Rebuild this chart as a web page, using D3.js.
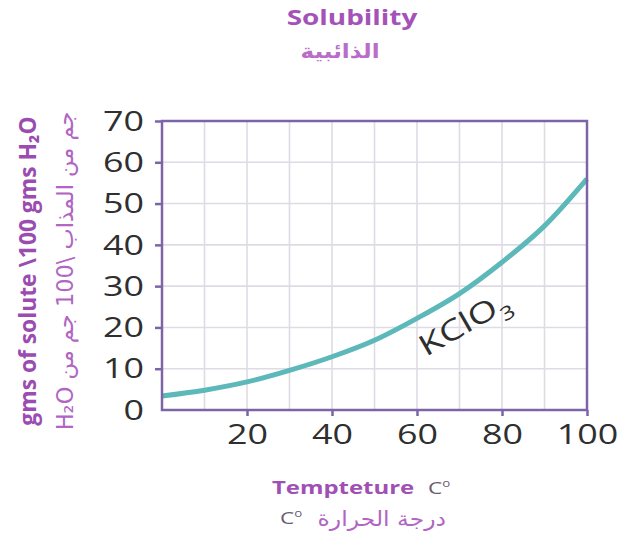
<!DOCTYPE html>
<html><head><meta charset="utf-8">
<script src="https://cdn.jsdelivr.net/npm/d3@7/dist/d3.min.js"></script>
<style>body{margin:0;background:#fff}svg{display:block}</style>
</head><body><svg id="c" width="619" height="541"></svg>
<script>
// ---- data ----
const temperatures = [0, 10, 20, 30, 40, 50, 60, 70, 80, 90, 100];
const solubilityKClO3 = [3.4, 4.8, 6.8, 9.6, 12.9, 16.9, 22.2, 28.2, 35.8, 44.6, 56];
const xTickValues = [20, 40, 60, 80, 100];
const yTickValues = [0, 10, 20, 30, 40, 50, 60, 70];
const xGridValues = [10, 20, 30, 40, 50, 60, 70, 80, 90];
const yGridValues = [10, 20, 30, 40, 50, 60];
const seriesName = "KClO";
const seriesSub = "3";
const titleEn = "Solubility";
const titleAr = "الذائبية";
const yTitleEn = "gms of solute \\100 gms H₂O";
const yTitleAr = "جم من المذاب \\100 جم من H₂O";
const xTitleEn = "Tempteture";
const xTitleAr = "درجة الحرارة";

// ---- layout ----
const W = 619, H = 541;
const plot = {left: 162, right: 587, top: 121, bottom: 410};
const SX = 1.33; // horizontal stretch of the reference text
const font = "'Open Sans', 'DejaVu Sans', sans-serif";
const arFont = "'DejaVu Sans', sans-serif";

const svg = d3.select("#c");
svg.append("rect").attr("width", W).attr("height", H).attr("fill", "#fff");

const x = d3.scaleLinear().domain([0, 100]).range([plot.left, plot.right]);
const y = d3.scaleLinear().domain([0, 70]).range([plot.bottom, plot.top]);

// grid
const grid = svg.append("g").attr("stroke", "#dfdbe5").attr("stroke-width", 1.6);
grid.selectAll("line.v").data(xGridValues).join("line").attr("class", "v")
  .attr("x1", d => x(d)).attr("x2", d => x(d)).attr("y1", plot.top).attr("y2", plot.bottom);
grid.selectAll("line.h").data(yGridValues).join("line").attr("class", "h")
  .attr("y1", d => y(d)).attr("y2", d => y(d)).attr("x1", plot.left).attr("x2", plot.right);

// curve
const pts = temperatures.map((t, i) => [t, solubilityKClO3[i]]);
svg.append("path").datum(pts)
  .attr("d", d3.line().x(d => x(d[0])).y(d => y(d[1])).curve(d3.curveMonotoneX))
  .attr("fill", "none").attr("stroke", "#5cb8b9").attr("stroke-width", 5);

// frame
const frameColor = "#7c64a8";
svg.append("rect").attr("x", plot.left).attr("y", plot.top)
  .attr("width", plot.right - plot.left).attr("height", plot.bottom - plot.top)
  .attr("fill", "none").attr("stroke", frameColor).attr("stroke-width", 2.5);

// axes
const yAxis = svg.append("g").attr("transform", `translate(${plot.left},0)`)
  .call(d3.axisLeft(y).tickValues(yTickValues).tickSize(7).tickFormat(d3.format("d")));
const xAxis = svg.append("g").attr("transform", `translate(0,${plot.bottom})`)
  .call(d3.axisBottom(x).tickValues(xTickValues).tickSize(6).tickFormat(d3.format("d")));
[yAxis, xAxis].forEach(a => {
  a.select(".domain").remove();
  a.selectAll(".tick line").attr("stroke", frameColor).attr("stroke-width", 2.5);
  a.selectAll(".tick text").attr("font-family", font).attr("font-size", 27)
    .attr("font-weight", 500).attr("fill", "#2f2f2f");
});
yAxis.selectAll(".tick").filter(d => d === 0).select("line").remove();
yAxis.selectAll(".tick text").attr("x", 0).attr("dy", "0.34em")
  .attr("transform", `translate(-18,0) scale(${SX},1)`);
xAxis.selectAll(".tick text").attr("y", 15).attr("dy", "0.72em")
  .attr("transform", `scale(${SX},1)`);

// helper
function txt(str, tx, ty, opts) {
  const g = svg.append("g").attr("transform", `translate(${tx},${ty}) ${opts.tf || ""}`);
  const t = g.append("text").text(str)
    .attr("font-family", opts.family || font)
    .attr("font-size", opts.size).attr("font-weight", opts.weight || 400)
    .attr("fill", opts.fill).attr("text-anchor", opts.anchor || "middle");
  if (opts.rtl) t.attr("direction", "rtl");
  return t;
}

// titles
txt(titleEn, 352, 25, {size: 21, weight: 700, fill: "#a452b8", tf: `scale(${SX},1)`});
txt(titleAr, 340, 58, {size: 20, weight: 700, fill: "#b96cc8", tf: `scale(1.15,1)`, family: arFont});

// y titles
txt(yTitleEn, 36, 271, {size: 22.8, weight: 700, fill: "#9a4cb0", tf: "rotate(-90)"});
txt(yTitleAr, 73, 271, {size: 22.5, weight: 400, fill: "#b066c2", tf: "rotate(-90)", rtl: true, family: arFont});

// x titles
txt(xTitleEn, 272, 494, {size: 18, weight: 700, fill: "#a050b4", anchor: "start", tf: `scale(${SX},1)`});
const c1 = txt("C", 428, 494, {size: 17, fill: "#6a5a72", anchor: "start", tf: `scale(${SX},1)`});
c1.append("tspan").attr("font-size", 10).attr("dy", -7).text("o");
txt(xTitleAr, 446, 526, {size: 21, weight: 400, fill: "#b066c2", anchor: "end", tf: "scale(1.12,1)", family: arFont});
const c2 = txt("C", 280, 524, {size: 17, fill: "#6a5a72", anchor: "start", tf: `scale(${SX},1)`});
c2.append("tspan").attr("font-size", 10).attr("dy", -7).text("o");

// series label
const lab = txt(seriesName, 426, 357, {size: 29, fill: "#2e2e2e", anchor: "start", tf: "rotate(-30) scale(1.3,1)"});
lab.append("tspan").attr("font-size", 19).attr("dy", 9).text(seriesSub);
</script></body></html>
